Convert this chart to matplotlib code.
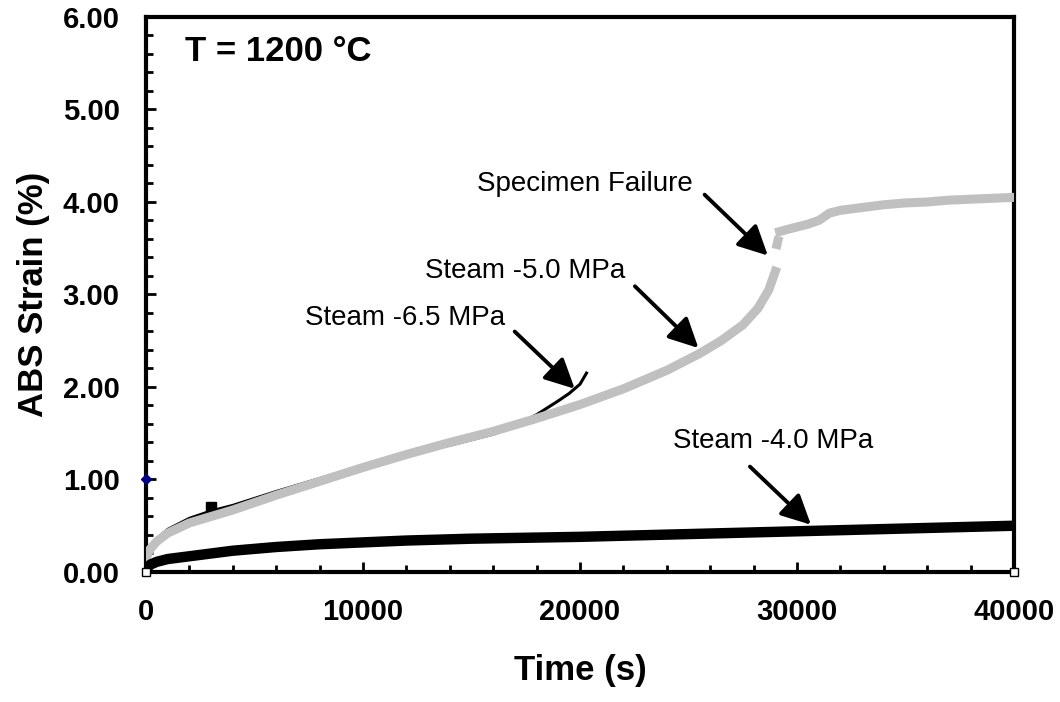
import matplotlib
matplotlib.use("Agg")
import matplotlib.pyplot as plt
from matplotlib.ticker import MultipleLocator, FormatStrFormatter

plt.rcParams['font.family'] = ['Liberation Sans', 'DejaVu Sans']

# Steam -4.0 MPa
t_40 = [0, 200, 500, 1000, 2000, 4000, 6000, 8000, 10000, 12000, 15000, 20000, 25000, 30000, 35000, 40000]
s_40 = [0.03, 0.08, 0.11, 0.14, 0.17, 0.23, 0.27, 0.30, 0.32, 0.34, 0.36, 0.38, 0.41, 0.44, 0.47, 0.50]

# Steam -5.0 MPa, before and after failure
t_50a = [0, 200, 500, 1000, 2000, 3000, 4000, 6000, 8000, 10000, 12000, 14000, 16000, 18000,
         20000, 22000, 24000, 25500, 26500, 27500, 28200, 28700, 29000]
s_50a = [0.15, 0.25, 0.33, 0.42, 0.53, 0.60, 0.67, 0.83, 0.98, 1.13, 1.27, 1.40, 1.52, 1.66,
         1.81, 1.98, 2.18, 2.36, 2.50, 2.67, 2.85, 3.05, 3.25]
t_50gap = [29080, 29120]
s_50gap = [3.54, 3.58]
t_50b = [29200, 29500, 30000, 30500, 31000, 31500, 32000, 33000, 34000, 35000, 36000, 37000, 38000, 39000, 40000]
s_50b = [3.68, 3.70, 3.73, 3.76, 3.80, 3.88, 3.91, 3.94, 3.97, 3.99, 4.00, 4.02, 4.03, 4.04, 4.05]

# Steam -6.5 MPa
t_65 = [0, 200, 500, 1000, 2000, 3000, 4000, 6000, 8000, 10000, 12000, 14000, 16000, 17000,
        18000, 19000, 19500, 20000, 20300]
s_65 = [0.15, 0.28, 0.36, 0.46, 0.58, 0.66, 0.72, 0.87, 1.01, 1.15, 1.29, 1.37, 1.49, 1.58,
        1.70, 1.85, 1.93, 2.03, 2.15]

fig = plt.figure(figsize=(10.6, 7.02), dpi=100)
ax = fig.add_axes([0.1377, 0.1852, 0.8189, 0.7906])

ax.plot(t_65, s_65, color='black', lw=2.2, zorder=2)
ax.plot([3000], [0.70], 's', color='black', ms=7, zorder=2)
ax.plot(t_50a, s_50a, color='#c0c0c0', lw=6.5, zorder=3)
ax.plot(t_50gap, s_50gap, color='#c0c0c0', lw=6.5, zorder=3)
ax.plot(t_50b, s_50b, color='#c0c0c0', lw=6.5, zorder=3)
ax.plot(t_40, s_40, color='black', lw=7.5, zorder=4)
ax.plot([0], [1.0], 'D', color='#000080', ms=5, zorder=5, clip_on=False)
ax.plot([0, 40000], [0, 0], 's', mfc='white', mec='black', ms=6, mew=1, zorder=6, clip_on=False)

ax.set_xlim(0, 40000)
ax.set_ylim(0, 6)
ax.xaxis.set_major_locator(MultipleLocator(10000))
ax.xaxis.set_minor_locator(MultipleLocator(2000))
ax.yaxis.set_major_locator(MultipleLocator(1))
ax.yaxis.set_minor_locator(MultipleLocator(0.2))
ax.yaxis.set_major_formatter(FormatStrFormatter('%.2f'))
ax.tick_params(which='both', direction='in', top=False, right=False, width=2, color='black')
ax.tick_params(which='major', length=7)
ax.tick_params(which='minor', length=5)
ax.tick_params(axis='x', which='major', pad=19)
ax.tick_params(axis='y', which='major', pad=19)
for lab in ax.get_xticklabels() + ax.get_yticklabels():
    lab.set_fontweight('bold')
    lab.set_fontsize(21)
for sp in ax.spines.values():
    sp.set_linewidth(3)

ax.set_xlabel('Time (s)', fontsize=25, fontweight='bold', va='top')
ax.xaxis.set_label_coords(0.5, -0.147)
ax.set_ylabel('ABS Strain (%)', fontsize=25, fontweight='bold')
ax.yaxis.set_label_coords(-0.111, 0.5)

ax.text(1800, 5.63, 'T = 1200 °C', fontsize=25, fontweight='bold', va='center', ha='left')

arrow = dict(arrowstyle='-|>', color='black', lw=2.8, mutation_scale=45)
fs = 20
ax.text(25200, 4.19, 'Specimen Failure', fontsize=fs, ha='right', va='center')
ax.annotate('', xy=(28750, 3.40), xytext=(25650, 4.10), arrowprops=arrow)
ax.text(22070, 3.25, 'Steam -5.0 MPa', fontsize=fs, ha='right', va='center')
ax.annotate('', xy=(25550, 2.40), xytext=(22440, 3.11), arrowprops=arrow)
ax.text(16540, 2.75, 'Steam -6.5 MPa', fontsize=fs, ha='right', va='center')
ax.annotate('', xy=(19850, 1.96), xytext=(16900, 2.62), arrowprops=arrow)
ax.text(28900, 1.42, 'Steam -4.0 MPa', fontsize=fs, ha='center', va='center')
ax.annotate('', xy=(30735, 0.49), xytext=(27740, 1.16), arrowprops=arrow)

fig.savefig('out.png', dpi=100)
